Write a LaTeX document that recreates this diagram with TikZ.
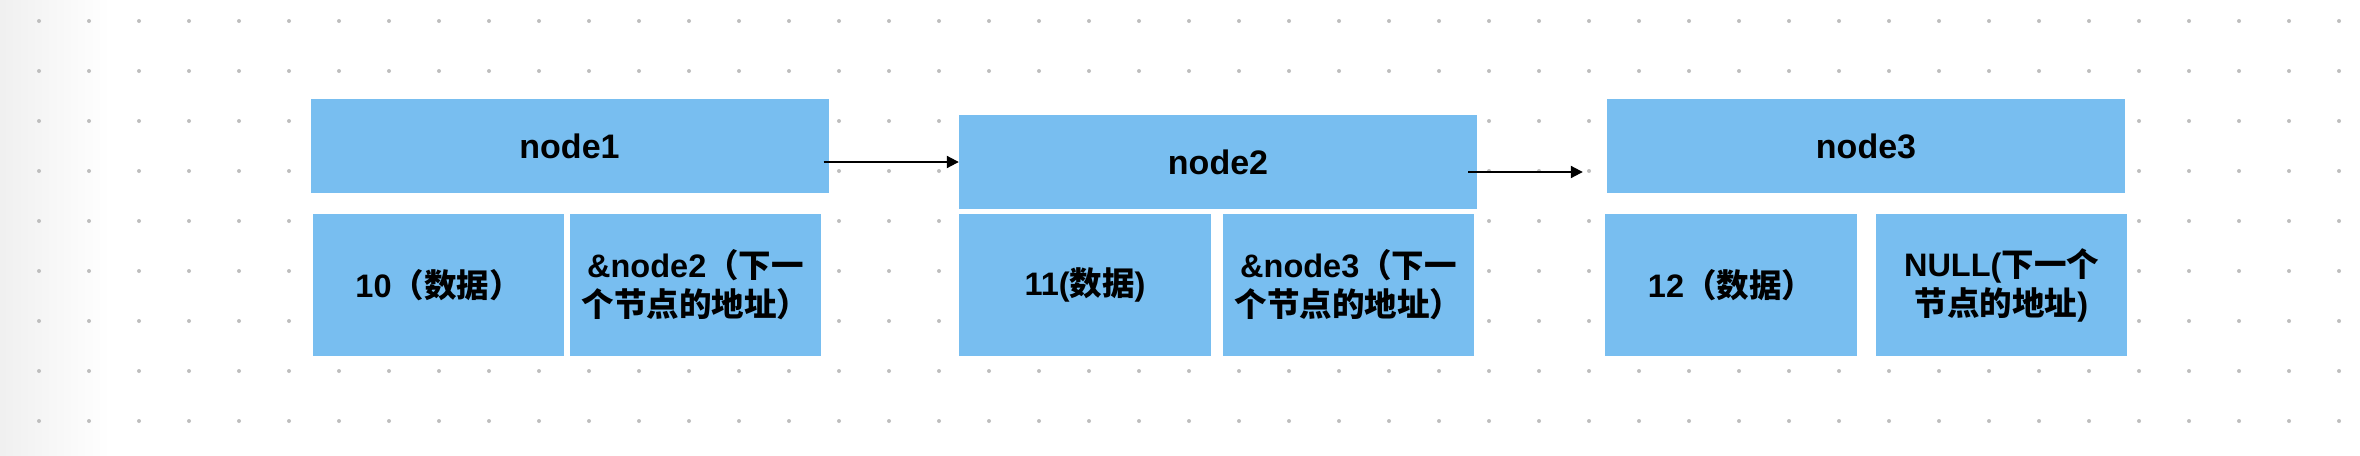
\documentclass[tikz,border=0pt]{standalone}
\usepackage{fontspec}
\usepackage{tikz}
\newfontfamily\cjkfont{Noto Sans CJK SC}
\newfontfamily\latinfont{Liberation Sans}
\newcommand{\lat}[1]{{\latinfont\bfseries #1}}
\definecolor{cellblue}{RGB}{120, 190, 240}
\definecolor{dotgray}{RGB}{190, 190, 190}
\usetikzlibrary{arrows.meta, positioning, calc}

\begin{document}
\begin{tikzpicture}[
    x=1pt, y=-1pt,
    head/.style={rectangle, fill=cellblue, minimum width=518pt, minimum height=94pt, inner sep=0pt, font=\latinfont\bfseries\fontsize{34}{42}\selectfont},
    cell/.style={rectangle, fill=cellblue, minimum width=251pt, minimum height=142pt, inner sep=0pt, align=center, font=\cjkfont\bfseries\fontsize{32.5}{39}\selectfont},
    link/.style={-{Triangle[length=12pt, width=12pt]}, line width=2pt}
]
    \useasboundingbox (0,0) rectangle (2360,455);

    % Background: faint shade on the left and dot grid
    \shade[left color=black!6, right color=white] (0,0) rectangle (110,455);
    \foreach \i in {0,...,46}
        \foreach \j in {0,...,8}
            \fill[dotgray] (39+50*\i, 21+50*\j) circle (2pt);

    % First node
    \node[head] (node1) at (569.5, 146) {node1};
    \node[cell] (data1) at (438.5, 285) {\lat{10}（数据）};
    \node[cell] (next1) at (695.5, 285) {\lat{\&node2}（下一\\个节点的地址）};

    % Second node
    \node[head] (node2) at (1218, 162) {node2};
    \node[cell, minimum width=252pt] (data2) at (1085, 285) {\lat{11(}数据\lat{)}};
    \node[cell] (next2) at (1348.5, 285) {\lat{\&node3}（下一\\个节点的地址）};

    % Third node
    \node[head] (node3) at (1866, 146) {node3};
    \node[cell, minimum width=252pt] (data3) at (1731, 285) {\lat{12}（数据）};
    \node[cell] (next3) at (2001.5, 285) {\lat{NULL(}下一个\\节点的地址\lat{)}};

    % Arrows
    \draw[link] ([xshift=-5pt]node1.east |- node2.west) -- (node2.west);
    \coordinate (end2) at ($(node3.west)+(-24,26)$);
    \draw[link] ($(node2.east)+(-9,10)$) -- (end2);
\end{tikzpicture}
\end{document}
